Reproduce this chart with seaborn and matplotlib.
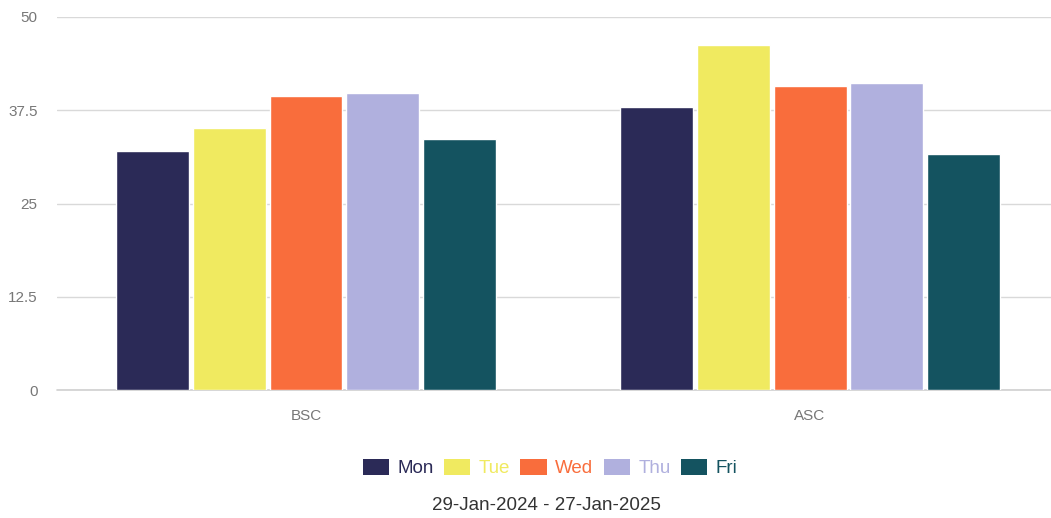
import matplotlib
matplotlib.use('Agg')
import matplotlib.pyplot as plt
from matplotlib.patches import Patch
import seaborn as sns
import pandas as pd

groups = ['BSC', 'ASC']
days = ['Mon', 'Tue', 'Wed', 'Thu', 'Fri']
mon = [32.1, 37.9]
tue = [35.1, 46.3]
wed = [39.4, 40.7]
thu = [39.8, 41.1]
fri = [33.6, 31.7]
colors = ['#2b2a57', '#f0ea60', '#f96d3c', '#b0b0de', '#145360']
yticks = [0, 12.5, 25, 37.5, 50]
ytick_labels = ['0', '12.5', '25', '37.5', '50']
subtitle = '29-Jan-2024 - 27-Jan-2025'

rows = []
for day, vals in zip(days, [mon, tue, wed, thu, fri]):
    for g, v in zip(groups, vals):
        rows.append({'group': g, 'day': day, 'value': v})
df = pd.DataFrame(rows)

sns.set_style('white')
plt.rcParams['font.family'] = ['Liberation Sans', 'DejaVu Sans']

fig = plt.figure(figsize=(10.51, 5.18), dpi=100)
ax = fig.add_axes([57 / 1051, 1 - 390 / 518, 1 - 57 / 1051, 373 / 518])

sns.barplot(data=df, x='group', y='value', hue='day', order=groups, hue_order=days,
            palette=dict(zip(days, colors)), width=0.761, gap=0.05,
            saturation=1, legend=False, ax=ax, zorder=3)

ax.set_xlim(-0.494, 1.478)
ax.set_ylim(0, 50)
ax.set_yticks(yticks)
ax.set_yticklabels(ytick_labels)
ax.set_xlabel('')
ax.set_ylabel('')
ax.grid(axis='y', color='#d9d9d9', linewidth=1, zorder=0)
ax.axhline(0, color='#d0d0d0', linewidth=1.2, zorder=1, clip_on=False)
ax.set_axisbelow(True)
for s in ax.spines.values():
    s.set_visible(False)
ax.tick_params(axis='both', length=0, labelsize=11, colors='#777777', pad=14)

handles = [Patch(facecolor=c, edgecolor='none') for c in colors]
fig.legend(handles, days, loc='center', bbox_to_anchor=(550 / 1051, 1 - 468 / 518),
           ncol=5, frameon=False, fontsize=13.5, labelcolor=colors,
           handlelength=1.4, handleheight=0.95, handletextpad=0.45, columnspacing=0.55)

fig.text(546 / 1051, 1 - 505 / 518, subtitle, ha='center', va='center',
         fontsize=13.5, color='#333333')

fig.savefig('out.png', dpi=100)
